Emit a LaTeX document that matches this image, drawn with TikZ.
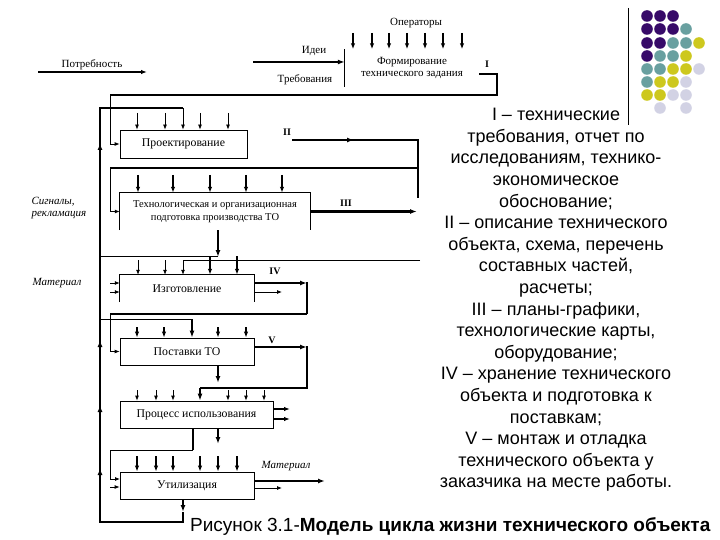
\documentclass[tikz,border=0pt]{standalone}
\usepackage{fontspec}
\setmainfont{Liberation Serif}
\newfontfamily\arialfont{Liberation Sans}
\usetikzlibrary{arrows.meta, positioning, calc}
\definecolor{dotpurple}{RGB}{55,10,105}
\definecolor{dotteal}{RGB}{105,160,160}
\definecolor{dotyellow}{RGB}{205,200,30}
\definecolor{dotlav}{RGB}{210,210,228}

\begin{document}
\begin{tikzpicture}[x=1pt, y=-1pt,
  blok/.style={inner sep=0pt, align=center, font=\fontsize{11.8}{12.5}\selectfont},
  lbl/.style={font=\fontsize{11}{13}\selectfont},
  rim/.style={font=\fontsize{10}{12}\selectfont\bfseries},
  thn/.style={line width=0.8pt},
  mid/.style={line width=1.4pt},
  thk/.style={line width=2.2pt},
  arr/.style={thn, -{Latex[length=5pt,width=4pt]}},
  arrm/.style={mid, -{Latex[length=6pt,width=4.5pt]}},
  arrk/.style={thk, -{Latex[length=7pt,width=5pt]}}
]
  \useasboundingbox (0,0) rectangle (720,540);
  \def\lx{100}
  \def\ix{110}
  \def\rx{307}

  % Top: task formation
  \node[blok, font=\fontsize{11}{12.5}\selectfont, minimum width=134pt, minimum height=37pt] (form) at (412,68)
    {Формирование\\технического задания};
  \draw[thn] (form.north west) -- (form.south west);
  \node[lbl] (oper) at (416,23) {Операторы};
  \foreach \x in {353,372,389,407,425,443,462}
    \draw[arrm] (\x,33) -- (\x,33 |- form.north);
  \coordinate (ideaA) at (253,62);
  \draw[arrk] (ideaA) -- (ideaA -| form.west);
  \node[lbl] (idea) at (314,51) {Идеи};
  \node[lbl] (treb) at (305,80) {Требования};
  \coordinate (needA) at (38,72);
  \coordinate (needB) at (147,72);
  \draw[arrm] (needA) -- (needB);
  \node[lbl] (need) at (92,65) {Потребность};
  \node[rim] (lI) at (487,64) {I};
  \draw[thk] (form.east |- 0,74) -| (497,95) -- (\ix,95);

  % Block 1: design
  \node[blok, draw, thn, minimum width=127pt, minimum height=28pt] (proj) at (183.5,144) {Проектирование};
  \draw[arr] (\ix,95) |- (proj.west);
  \foreach \x in {137,165,200,228}
    \draw[arr] (\x,113) -- (\x,113 |- proj.north);

  % Feedback loop on the left
  \coordinate (fbA) at (183,512);
  \draw[thk] (fbA) -- (183,522) -| (\lx,108) -- (183,108);
  \draw[arr] (183,108) -- (183,108 |- proj.north);
  \foreach \y in {143,340,405,468}
    \draw[arrk] (\lx,\y+9) -- (\lx,\y);
  \node[lbl, font=\fontsize{11}{12}\selectfont\itshape, align=left, anchor=west] (sign) at (28,208)
    {Сигналы,\\рекламация};

  % II
  \node[rim] (lII) at (287,132) {II};
  \coordinate (IIa) at (292,140);
  \draw[arrk] (IIa) -- (354,140);
  \draw[thk] (350,140) -| (418,198);
  \draw[thk] (418,168) -- (\ix,168);

  % Block 2: preparation
  \node[blok, font=\fontsize{10.5}{13}\selectfont, minimum width=190pt, minimum height=37pt] (tech) at (215,211.5)
    {Технологическая и организационная\\подготовка производства ТО};
  \draw[thn] (tech.south west) |- (tech.north east) -- (tech.south east);
  \draw[arr] (\ix,168) |- (tech.west);
  \foreach \x in {138,173,210,246,282}
    \draw[arrm] (\x,175) -- (\x,175 |- tech.north);
  \node[rim] (lIII) at (346,203) {III};
  \draw[arrk] (tech.east) -- (tech.east -| 417,0);
  \draw[arrk] (tech.south -| 218,0) -- (218,257);
  \draw[thn] (218,256) -- (\lx,256);
  \draw[thn] (420,260) -- (183,260);

  % Block 3: manufacturing
  \node[blok, minimum width=134pt, minimum height=27pt] (izg) at (187,288.5) {Изготовление};
  \draw[thn] (izg.south west) |- (izg.north east) -- (izg.south east);
  \foreach \x in {138,165,183}
    \draw[arr] (\x,260) -- (\x,260 |- izg.north);
  \foreach \x in {210,237}
    \draw[arrm] (\x,256) -- (\x,256 |- izg.north);
  \foreach \y in {283,292}
    \draw[arr] (\ix,\y) -- (\ix,\y -| izg.west);
  \node[lbl, font=\fontsize{11}{12}\selectfont\itshape] (mat1) at (57,283) {Материал};
  \node[rim] (lIV) at (275,271) {IV};
  \draw[arrk] (izg.east |- 0,283) -- (\rx,283);
  \draw[thk] (\rx,282) -- (\rx,314);
  \draw[mid] (\rx,314) -- (\ix,314);
  \draw[arr] (izg.east |- 0,292) -- (282,292);

  % Block 4: deliveries
  \node[blok, draw, thn, minimum width=134pt, minimum height=27pt] (post) at (187,351.5) {Поставки ТО};
  \draw[arr] (\ix,314) |- (post.west);
  \draw[thn] (\lx,319) -- (192,319);
  \draw[arrk] (192,319) -- (192,319 |- post.north);
  \foreach \x in {137,164,218,246}
    \draw[arrm] (\x,327) -- (\x,327 |- post.north);
  \node[rim] (lV) at (272,340) {V};
  \draw[arrk] (post.east |- 0,347) -- (\rx,347);
  \draw[thk] (\rx,346) |- (200,388);
  \draw[arrk] (post.south -| 218,0) -- (218,383);

  % Block 5: use
  \node[blok, draw, thn, minimum width=153pt, minimum height=27pt] (proc) at (196.5,414.5) {Процесс использования};
  \draw[arrk] (200,388) -- (200,388 |- proc.north);
  \foreach \x in {137,156,173,228,246,264}
    \draw[arr] (\x,390) -- (\x,390 |- proc.north);
  \foreach \y in {409,419}
    \draw[arrm] (proc.east |- 0,\y) -- (290,\y);
  \draw[thk] (proc.south -| 193,0) -- (193,450);
  \draw[thn] (193,450) -- (\ix,450);
  \draw[arrk] (proc.south -| 218,0) -- (218,444);

  % Block 6: disposal
  \node[blok, draw, thn, minimum width=134pt, minimum height=27pt] (util) at (187,485.5) {Утилизация};
  \draw[arr] (\ix,450) |- (\ix+10,479);
  \draw[arr] (\ix,487) -- (\ix,487 -| util.west);
  \foreach \x in {137,156,173,200,218,237}
    \draw[arrm] (\x,456) -- (\x,456 |- util.north);
  \node[lbl, font=\fontsize{11}{12}\selectfont\itshape] (mat2) at (286,466) {Материал};
  \draw[arrk] (util.east |- 0,481) -- (325,481);
  \draw[arr] (util.east |- 0,488) -- (282,488);
  \draw[arrk] (util.south -| 183,0) -- (fbA);

  % Legend text
  \node[font=\arialfont\fontsize{18}{21.6}\selectfont, align=center] (legend) at (556,300)
    {I – технические\\требования, отчет по\\исследованиям, технико-\\экономическое\\обоснование;\\
     II – описание технического\\объекта, схема, перечень\\составных частей,\\расчеты;\\
     III – планы-графики,\\технологические карты,\\оборудование;\\
     IV – хранение технического\\объекта и подготовка к\\поставкам;\\
     V – монтаж и отладка\\технического объекта у\\заказчика на месте работы.};
  \node[font=\arialfont\fontsize{19}{22}\selectfont, anchor=west, inner sep=0pt] (capt) at (190,527)
    {Рисунок 3.1-\textbf{Модель цикла жизни технического объекта}};

  % Corner decoration
  \draw[line width=1pt] (628,8) -- (628,125);
  \foreach \cx/\cy/\cc in {
      647/16/dotpurple, 660/16/dotpurple, 673/16/dotpurple,
      647/29/dotpurple, 660/29/dotpurple, 673/29/dotpurple, 686/29/dotteal,
      647/43/dotpurple, 660/43/dotpurple, 673/43/dotteal, 686/43/dotteal, 699/43/dotyellow,
      647/56/dotpurple, 660/56/dotteal, 673/56/dotteal, 686/56/dotyellow,
      647/69/dotteal, 660/69/dotteal, 673/69/dotyellow, 686/69/dotyellow, 699/69/dotlav,
      647/82/dotteal, 660/82/dotyellow, 673/82/dotyellow, 686/82/dotlav,
      647/95/dotyellow, 660/95/dotyellow, 673/95/dotlav, 686/95/dotlav,
      660/108/dotlav, 686/108/dotlav}
    \fill[\cc] (\cx,\cy) circle[radius=5.8];
\end{tikzpicture}
\end{document}
